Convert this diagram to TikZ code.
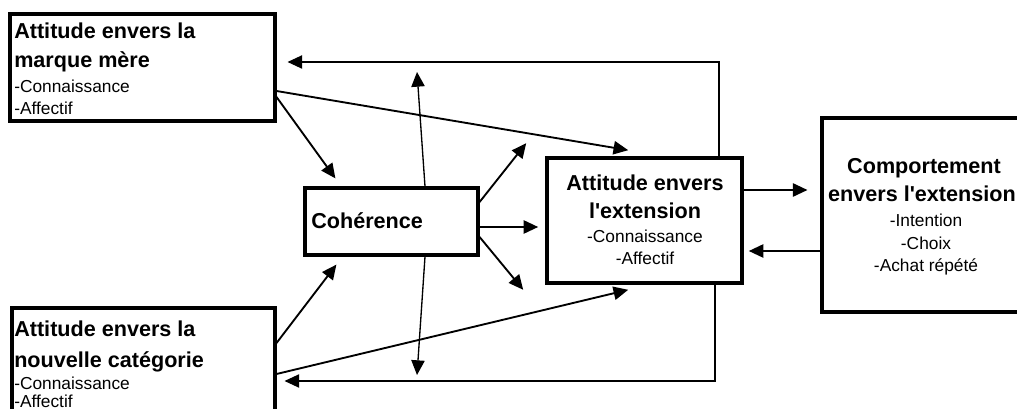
\documentclass[tikz,border=0pt]{standalone}
\usepackage{fontspec}
\setmainfont{Liberation Sans}
\usetikzlibrary{arrows.meta,calc,fit}
\tikzset{
  box/.style={draw, line width=2.3pt, inner sep=0pt},
  ttl/.style={font=\fontsize{16.2}{19}\selectfont\bfseries, inner sep=0pt},
  sub/.style={font=\fontsize{13}{15}\selectfont, inner sep=0pt},
  tip/.style={-{Triangle[length=11pt,width=10pt]}},
  arr/.style={line width=1.4pt, tip},
  fb/.style={line width=1pt, tip},
}
\begin{document}
\begin{tikzpicture}[x=0.75pt,y=-0.75pt]
\useasboundingbox (0,0) rectangle (1017,409);
\clip (0,0) rectangle (1017,409);

% boxes
\node[box, fit={(10,14) (275,121)}] (b1) {};
\node[box, fit={(12,308) (275,440)}] (b2) {};
\node[box, line width=2.4pt, fit={(305,188) (478,255)}] (coh) {};
\node[box, line width=2.7pt, fit={(547,158) (742,283)}] (ext) {};
\node[box, fit={(822,118) (1040,312)}] (comp) {};

% texts box 1
\node[ttl, anchor=base west] (b1a) at (14,39) {Attitude envers la};
\node[ttl, anchor=base west] (b1b) at (14,68) {marque mère};
\node[sub, anchor=base west] (b1c) at (14,93) {-Connaissance};
\node[sub, anchor=base west] (b1d) at (14,115) {-Affectif};

% texts box 2
\node[ttl, anchor=base west] (b2a) at (14,337) {Attitude envers la};
\node[ttl, anchor=base west] (b2b) at (14,368) {nouvelle catégorie};
\node[sub, anchor=base west] (b2c) at (14,390) {-Connaissance};
\node[sub, anchor=base west] (b2d) at (14,407) {-Affectif};

% coherence
\node[ttl, anchor=base west] (coht) at (311,229) {Cohérence};

% extension
\node[ttl, anchor=base] (exta) at (645,191) {Attitude envers};
\node[ttl, anchor=base] (extb) at (645,219) {l\textquotesingle extension};
\node[sub, anchor=base] (extc) at (645,243) {-Connaissance};
\node[sub, anchor=base] (extd) at (645,265) {-Affectif};

% comportement
\node[ttl, anchor=base] (compa) at (924,174) {Comportement};
\node[ttl, anchor=base] (compb) at (922,202) {envers l\textquotesingle extension};
\node[sub, anchor=base] (compc) at (926,227) {-Intention};
\node[sub, anchor=base] (compd) at (926,250) {-Choix};
\node[sub, anchor=base] (compe) at (926,272) {-Achat répété};

% free ends of the vertical double arrow
\coordinate (gt) at (417,72);
\coordinate (gb) at (417,375);

% feedback loops
\draw[fb] (ext.north -| 719,0) |- ($(b1.east |- 0,62)+(11,0)$);
\draw[fb] (ext.south -| 715,0) |- ($(b2.east |- 0,381)+(8,0)$);

% from parent brand / new category
\draw[arr] (b1.east |- 0,97) -- ($(coh.north west)+(32,-8)$);
\draw[arr] (b1.east |- 0,91) -- ($(ext.north west)+(83,-6)$);
\draw[arr] (b2.east |- 0,343) -- ($(coh.south west)+(33,8)$);
\draw[arr] (b2.east |- 0,374) -- ($(ext.south west)+(83,5)$);

% coherence vertical
\draw[fb] (coh.north -| 425,0) -- (gt);
\draw[fb] (coh.south -| 425,0) -- (gb);

% coherence to the right
\draw[arr] (coh.east |- 0,202) -- ($(ext.north west)+(-19,-13)$);
\draw[arr] (coh.east |- 0,227) -- ($(ext.west |- 0,227)+(-7,0)$);
\draw[arr] (coh.east |- 0,237) -- ($(ext.south west)+(-22,5)$);

% extension <-> comportement
\draw[arr] (ext.east |- 0,190) -- ($(comp.west |- 0,190)+(-13,0)$);
\draw[arr] (comp.west |- 0,251) -- ($(ext.east |- 0,251)+(5,0)$);
\end{tikzpicture}
\end{document}
